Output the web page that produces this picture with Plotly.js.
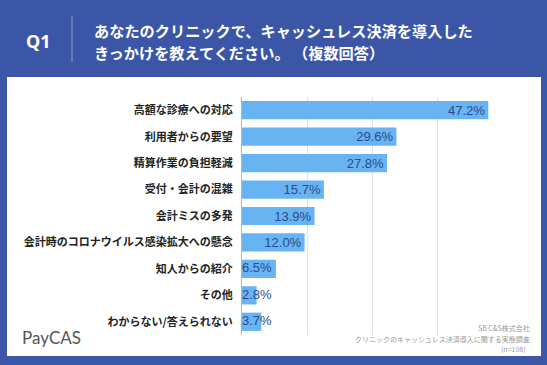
<!DOCTYPE html>
<html>
<head>
<meta charset="utf-8">
<script src="https://cdn.plot.ly/plotly-3.0.1.min.js"></script>
<style>html,body{margin:0;padding:0;background:#3b56a6;}#chart{width:547px;height:365px;}</style>
</head>
<body>
<div id="chart"></div>
<script>
const categories = [
  "高額な診療への対応",
  "利用者からの要望",
  "精算作業の負担軽減",
  "受付・会計の混雑",
  "会計ミスの多発",
  "会計時のコロナウイルス感染拡大への懸念",
  "知人からの紹介",
  "その他",
  "わからない/答えられない"
];
const values = [47.2, 29.6, 27.8, 15.7, 13.9, 12.0, 6.5, 2.8, 3.7];
const smallThreshold = 10;

const titleLines = ["あなたのクリニックで、キャッシュレス決済を導入した", "きっかけを教えてください。 （複数回答）"];
const sourceLines = ["SB C&S株式会社", "クリニックのキャッシュレス決済導入に関する実態調査", "(n=108) "];

// plot-area pixel geometry helpers (used only for decorations)
const W = 547, H = 365;
const L = 242, R = 503, T = 97, B = 335;
const px = x => (x - L) / (R - L);
const py = y => (B - y) / (B - T);

const fmt = v => v.toFixed(1) + "%";
const bigText = values.map(v => v >= smallThreshold ? fmt(v) : "");
const bigPos = values.map(v => v >= smallThreshold ? "inside" : "none");
const smallCats = categories.filter((c, i) => values[i] < smallThreshold);
const smallText = values.filter(v => v < smallThreshold).map(fmt);

const valueFont = {family: "Liberation Sans, Arial, sans-serif", size: 13, color: "#2a4b8c"};

const traces = [
  {
    type: "bar",
    orientation: "h",
    y: categories,
    x: values,
    marker: {color: "#68b3f1", line: {width: 0}},
    text: bigText,
    textposition: bigPos,
    insidetextanchor: "end",
    constraintext: "none",
    insidetextfont: valueFont,
    textfont: valueFont,
    hoverinfo: "skip",
    cliponaxis: false
  },
  {
    type: "scatter",
    mode: "text",
    y: smallCats,
    x: smallCats.map(() => 0),
    text: smallText,
    textposition: "middle right",
    textfont: valueFont,
    marker: {size: 9},
    hoverinfo: "skip",
    cliponaxis: false
  }
];

const titleFont = {family: "Noto Sans CJK JP, sans-serif", size: 15.2, color: "#ffffff", weight: "bold"};

const layout = {
  width: W, height: H,
  paper_bgcolor: "#3b56a6",
  plot_bgcolor: "rgba(0,0,0,0)",
  margin: {l: L, r: W - R, t: T, b: H - B, pad: 0},
  showlegend: false,
  bargap: 0.31,
  xaxis: {
    range: [0, 50.02],
    dtick: 12.5,
    tick0: 0,
    showticklabels: false,
    showgrid: true,
    gridcolor: "#e3e3e3",
    gridwidth: 1,
    zeroline: false,
    showline: false,
    fixedrange: true
  },
  yaxis: {
    autorange: "reversed",
    showgrid: false,
    zeroline: false,
    showline: true,
    linecolor: "#b5b5b5",
    linewidth: 1,
    ticks: "outside",
    ticklen: 6,
    tickcolor: "rgba(0,0,0,0)",
    tickfont: {family: "Noto Sans CJK JP, sans-serif", size: 11, color: "#222", weight: "bold"},
    fixedrange: true
  },
  shapes: [
    {type: "rect", xref: "paper", yref: "paper", layer: "below",
     x0: px(7), x1: px(541), y0: py(356), y1: py(77),
     fillcolor: "#ffffff", line: {width: 0}},
    {type: "line", xref: "paper", yref: "paper",
     x0: px(72), x1: px(72), y0: py(16), y1: py(62),
     line: {color: "rgba(255,255,255,0.45)", width: 1}}
  ],
  annotations: [
    {xref: "paper", yref: "paper", x: px(38.5), y: py(41), xanchor: "center", yanchor: "middle",
     text: "Q1", showarrow: false,
     font: {family: "Noto Sans, sans-serif", size: 18, color: "#ffffff", weight: "bold"}},
    {xref: "paper", yref: "paper", x: px(92), y: py(30), xanchor: "left", yanchor: "middle",
     align: "left", text: titleLines[0], showarrow: false, font: titleFont},
    {xref: "paper", yref: "paper", x: px(92), y: py(51.5), xanchor: "left", yanchor: "middle",
     align: "left", text: titleLines[1], showarrow: false, font: titleFont},
    {xref: "paper", yref: "paper", x: px(20), y: py(337), xanchor: "left", yanchor: "middle",
     text: "PayCAS", showarrow: false,
     font: {family: "Lato, sans-serif", size: 17, color: "#555555"}},
    {xref: "paper", yref: "paper", x: px(532), y: py(328), xanchor: "right", yanchor: "middle",
     text: sourceLines[0], showarrow: false,
     font: {family: "Noto Sans CJK JP, sans-serif", size: 7, color: "#9a9a9a"}},
    {xref: "paper", yref: "paper", x: px(532), y: py(338.5), xanchor: "right", yanchor: "middle",
     text: sourceLines[1], showarrow: false,
     font: {family: "Noto Sans CJK JP, sans-serif", size: 7, color: "#9a9a9a"}},
    {xref: "paper", yref: "paper", x: px(529), y: py(348.5), xanchor: "right", yanchor: "middle",
     text: sourceLines[2], showarrow: false,
     font: {family: "Noto Sans CJK JP, sans-serif", size: 7, color: "#9a9a9a"}}
  ]
};

Plotly.newPlot("chart", traces, layout, {staticPlot: true, displayModeBar: false});
</script>
</body>
</html>
